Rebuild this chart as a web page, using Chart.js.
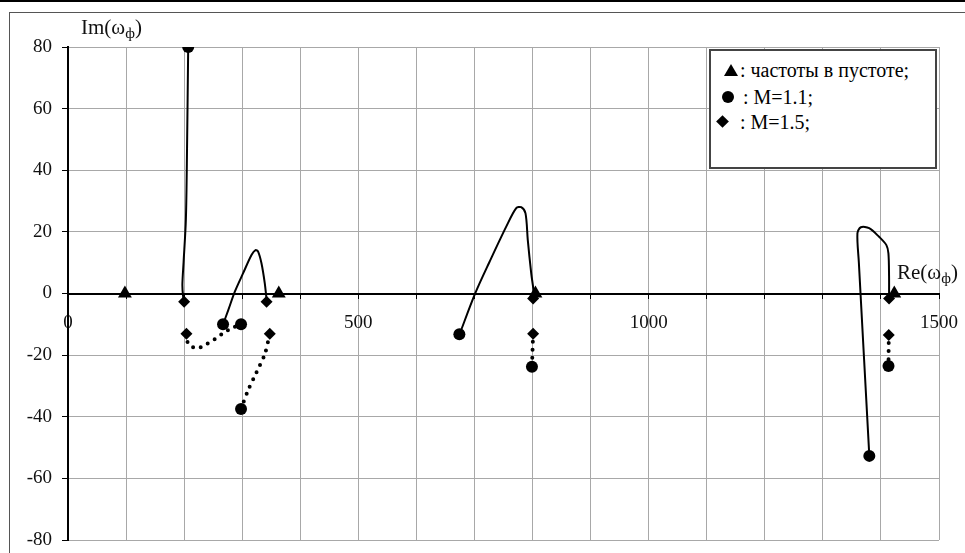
<!DOCTYPE html>
<html><head><meta charset="utf-8">
<script src="https://cdn.jsdelivr.net/npm/chart.js@4.4.1/dist/chart.umd.min.js"></script>
<style>
html,body{margin:0;padding:0;background:#fff;}
#wrap{position:relative;width:965px;height:553px;overflow:hidden;font-family:"Liberation Serif","Times New Roman",serif;}
#c{position:absolute;left:0;top:0;}
.topbar{position:absolute;left:0;top:0;width:965px;height:2px;background:#000;}
.frame{position:absolute;left:9px;top:12px;width:990px;height:600px;border-left:1px solid #555;border-top:1px solid #555;}
.lbl{position:absolute;font-size:21px;line-height:22px;color:#111;white-space:nowrap;font-family:"Liberation Serif",serif;}
.lbl sub{font-size:15px;vertical-align:-4px;line-height:0;}
#legend{position:absolute;left:709px;top:49px;width:228px;height:120px;border:2px solid #444;background:#fff;box-sizing:border-box;}
.lt{position:absolute;font-size:20px;line-height:22px;color:#000;white-space:nowrap;font-family:"Liberation Serif",serif;}
.tri{position:absolute;width:0;height:0;border-left:7px solid transparent;border-right:7px solid transparent;border-bottom:12px solid #000;}
.dot{position:absolute;width:12px;height:12px;border-radius:50%;background:#000;}
.dia{position:absolute;width:9px;height:9px;background:#000;transform:rotate(45deg);}
</style></head>
<body>
<div id="wrap">
  <div class="topbar"></div>
  <div class="frame"></div>
  <canvas id="c" width="965" height="553"></canvas>
  <div class="lbl" style="left:81px;top:16px;">Im(ω<sub>ф</sub>)</div>
  <div class="lbl" style="left:897px;top:261px;">Re(ω<sub>ф</sub>)</div>
  <div id="legend"></div>
  <div class="tri" style="left:724px;top:64px;"></div>
  <div class="lt" style="left:740px;top:59px;">: частоты в пустоте;</div>
  <div class="dot" style="left:722px;top:91px;"></div>
  <div class="lt" style="left:743px;top:86px;">: M=1.1;</div>
  <div class="dia" style="left:718px;top:117px;"></div>
  <div class="lt" style="left:740px;top:111px;">: M=1.5;</div>
</div>
<script>
// ---- data ----
const xTickLabels = [0, 500, 1000, 1500];
const yTickLabels = [-80, -60, -40, -20, 0, 20, 40, 60, 80];

// vacuum frequencies (triangles)
const vacuumRe = [98, 363, 805, 1423];
const vacuumIm = [0, 0, 0, 0];

// M = 1.1 (circles)
const m11Re = [207, 267, 298, 298, 674, 799, 1380, 1413];
const m11Im = [80, -10, -10, -37.5, -13.2, -23.8, -52.7, -23.5];

// M = 1.5 (diamonds)
const m15Re = [200, 204, 342, 347.5, 801, 801, 1414, 1413.5];
const m15Im = [-2.7, -13.1, -2.7, -13.1, -1.6, -13.1, -1.6, -13.5];

// solid trajectories
const curveARe = [207, 205, 203, 199, 197, 198, 200];
const curveAIm = [80, 47, 24, 10, 3, -0.5, -2.7];
const curveBRe = [267, 276, 287.3, 301.6, 316, 322.9, 327.4, 333.2, 338.9, 341.8, 342.8];
const curveBIm = [-10, -5.4, 0.6, 6.6, 12.5, 14.1, 13.6, 9.8, 3.3, -1.6, -2.7];
const curveCRe = [674.4, 701.4, 726, 754.7, 771.9, 780.5, 787.9, 791.8, 797.7, 802.2, 801];
const curveCIm = [-13.2, 0.1, 10.3, 21.7, 27.7, 28, 26, 17.4, 6.6, 0.1, -1.6];
const curveDRe = [1380, 1362, 1359.5, 1365.4, 1379.7, 1396.8, 1409.4, 1412.9, 1414, 1414];
const curveDIm = [-52.7, 10, 19.5, 21.5, 21.2, 18.4, 15.7, 13, 5.5, -1.6];

// dotted connections
const dotARe = [204, 207, 221.4, 238.6, 252.9, 267.2, 281.6, 298];
const dotAIm = [-13.1, -16.2, -17.8, -16.4, -14.8, -12.9, -11.3, -10];
const dotBRe = [298, 310, 324.6, 338.9, 347.5];
const dotBIm = [-37.5, -31.5, -25.6, -19.7, -13.1];
const dotCRe = [801, 799];
const dotCIm = [-13.1, -23.8];
const dotDRe = [1413.5, 1413];
const dotDIm = [-13.5, -23.5];

const pts = (xs, ys) => xs.map((x, i) => ({x: x, y: ys[i]}));

const markerSet = (data, style, r) => ({
  data: data, showLine: false, pointStyle: style, pointRadius: r, pointHoverRadius: r,
  pointBackgroundColor: '#000', pointBorderColor: '#000', pointBorderWidth: 0
});
const solid = (data) => ({
  data: data, showLine: true, pointRadius: 0, borderColor: '#000', borderWidth: 2,
  tension: 0.3, fill: false
});
const dotted = (data) => ({
  data: data, showLine: true, pointRadius: 0, borderColor: '#000', borderWidth: 4,
  borderDash: [0, 8], borderCapStyle: 'round', tension: 0.3, fill: false
});

new Chart(document.getElementById('c'), {
  type: 'scatter',
  data: {
    datasets: [
      markerSet(pts(vacuumRe, vacuumIm), 'triangle', 8),
      markerSet(pts(m15Re, m15Im), 'rectRot', 6),
      markerSet(pts(m11Re, m11Im), 'circle', 6),
      solid(pts(curveARe, curveAIm)),
      solid(pts(curveBRe, curveBIm)),
      solid(pts(curveCRe, curveCIm)),
      solid(pts(curveDRe, curveDIm)),
      dotted(pts(dotARe, dotAIm)),
      dotted(pts(dotBRe, dotBIm)),
      dotted(pts(dotCRe, dotCIm)),
      dotted(pts(dotDRe, dotDIm))
    ]
  },
  options: {
    responsive: false,
    animation: false,
    layout: {padding: {left: 0, top: 47, right: 26, bottom: 13}},
    plugins: {legend: {display: false}, tooltip: {enabled: false}},
    scales: {
      x: {
        type: 'linear', min: 0, max: 1500,
        position: {y: 0},
        afterFit: (s) => { s.height = 0; s.paddingLeft = 0; s.paddingRight = 0; s.paddingTop = 0; s.paddingBottom = 0; },
        grid: {color: '#a8a8a8', lineWidth: 1, tickColor: '#000', tickLength: 4, drawTicks: true},
        border: {color: '#000', width: 2},
        ticks: {
          stepSize: 100, autoSkip: false, maxRotation: 0, padding: 14,
          color: '#111', font: {family: 'Liberation Serif', size: 19},
          callback: (v) => xTickLabels.includes(v) ? String(v) : ''
        }
      },
      y: {
        type: 'linear', min: -80, max: 80, position: 'left',
        afterFit: (s) => { s.width = 68; s.paddingTop = 0; s.paddingBottom = 0; s.paddingLeft = 0; s.paddingRight = 0; },
        grid: {color: '#a8a8a8', lineWidth: 1, tickColor: '#000', tickLength: 6},
        border: {color: '#000', width: 2},
        ticks: {
          stepSize: 20, padding: 10, color: '#111',
          font: {family: 'Liberation Serif', size: 19},
          callback: (v) => yTickLabels.includes(v) ? String(v) : ''
        }
      }
    }
  }
});
</script>
</body></html>
